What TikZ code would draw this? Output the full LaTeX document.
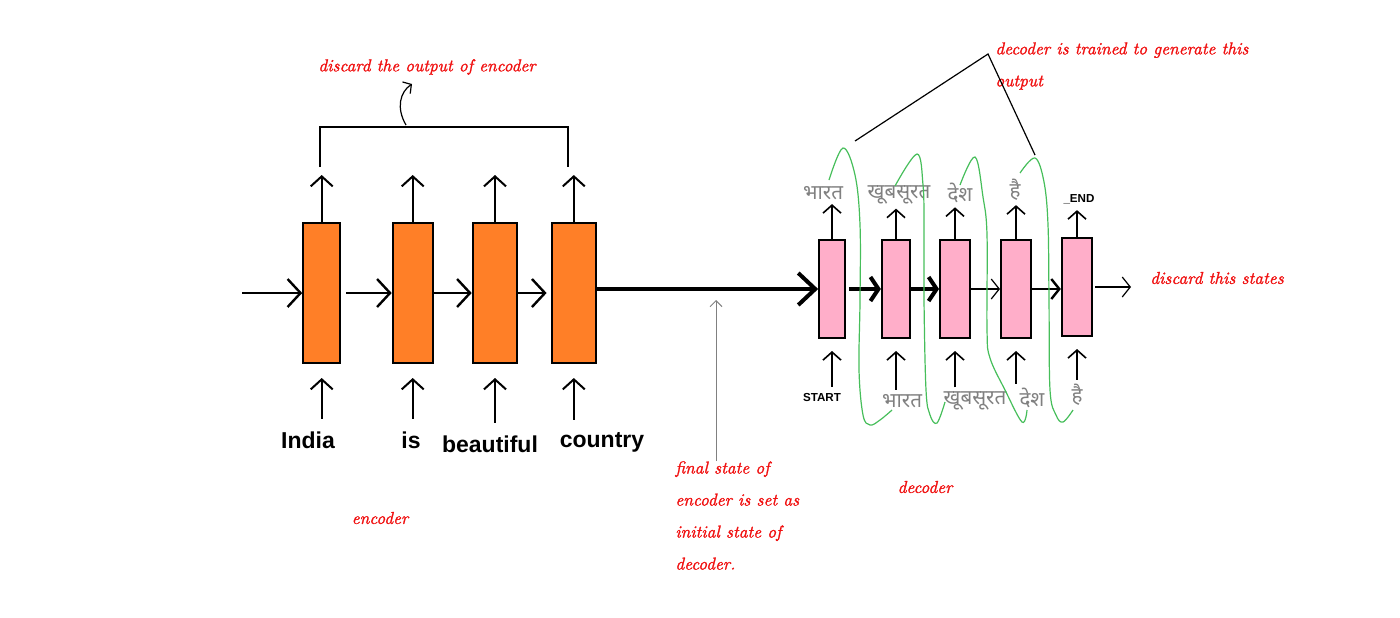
\documentclass[tikz,border=0pt]{standalone}
\usepackage{fontspec}
\setsansfont{Liberation Sans}
\newfontfamily\devfont[Script=Devanagari]{Noto Sans}
\newfontfamily\notefont[FakeBold=1.4]{lmroman10-italic.otf}
\usetikzlibrary{positioning, arrows.meta}
\definecolor{encorange}{RGB}{255,127,39}
\definecolor{decpink}{RGB}{255,174,201}
\definecolor{loopgreen}{RGB}{70,190,90}
\definecolor{notered}{RGB}{240,16,16}

\begin{document}
\begin{tikzpicture}[
    x=0.5pt, y=-0.5pt,
    enc/.style={rectangle, draw, line width=1pt, fill=encorange, minimum height=70pt, inner sep=0pt},
    dec/.style={rectangle, draw, line width=1pt, fill=decpink, minimum height=49pt, inner sep=0pt},
    word/.style={font=\sffamily\bfseries\fontsize{11.5}{12}\selectfont, inner sep=1pt, anchor=base},
    tag/.style={font=\sffamily\bfseries\fontsize{5.8}{6}\selectfont, inner sep=1pt},
    hindi/.style={font=\devfont\fontsize{10.3}{11}\selectfont, text=gray, inner sep=0pt},
    note/.style={font=\notefont\fontsize{8.6}{16}\selectfont, text=notered, align=left, inner sep=0pt},
    encarrow/.style={line width=1.2pt, -{Straight Barb[length=6.5pt, width=14pt]}},
    uparrow/.style={line width=1pt, -{Straight Barb[length=5pt, width=11pt]}},
    decup/.style={line width=0.8pt, -{Straight Barb[length=4pt, width=9pt]}},
    thinarrow/.style={line width=0.6pt, -{Straight Barb[length=4pt, width=10pt]}},
    greenloop/.style={loopgreen, line width=0.6pt}
]
    \useasboundingbox (0,0) rectangle (1400,617);

    % Encoder
    \node[enc, minimum width=18.5pt] (e1) at (321.7,293) {};
    \node[enc, minimum width=20pt] (e2) at (412.7,293) {};
    \node[enc, minimum width=22.3pt] (e3) at (495,293) {};
    \node[enc, minimum width=22.2pt] (e4) at (573.8,293) {};

    \node[word] (w1) at (308,448) {India};
    \node[word] (w2) at (411,448) {is};
    \node[word] (w3) at (490,452) {beautiful};
    \node[word] (w4) at (602,447) {country};

    \coordinate (src) at (242,293);
    \draw[encarrow] (src) -- (e1.west);
    \draw[encarrow, shorten <=2.5pt] (e1) -- (e2);
    \draw[encarrow] (e2) -- (e3);
    \draw[encarrow, shorten >=2pt] (e3) -- (e4);

    \foreach \i in {1,...,4} {
        \draw[uparrow, shorten <=5pt, shorten >=7pt] (e\i.south |- w\i.north) -- (e\i.south);
        \coordinate (o\i) at ([yshift=23.5pt]e\i.north);
        \draw[uparrow] (e\i.north) -- (o\i);
    }

    % Bracket over the encoder outputs
    \draw[line width=0.6pt] (320,167) |- (568,127) -- (568,167);
    \draw[line width=0.6pt, -{Straight Barb[length=3pt, width=7pt]}] (406,125) .. controls (396,108) and (400,92) .. (412,84);
    \node[note] (n1) at (427,67) {discard the output of encoder};
    \node[note] (n2) at (380,518) {encoder};

    % Decoder
    \node[dec, minimum width=12.85pt] (d1) at (832,289) {};
    \node[dec, minimum width=14.15pt] (d2) at (896,289) {};
    \node[dec, minimum width=15pt] (d3) at (955,289) {};
    \node[dec, minimum width=15pt] (d4) at (1016,289) {};
    \node[dec, minimum width=15.15pt] (d5) at (1077,287) {};

    \draw[line width=2pt, -{Straight Barb[length=8.5pt, width=16pt]}] (e4.east |- d1.west) -- (d1.west);
    \draw[line width=2pt, -{Straight Barb[length=4pt, width=12pt]}, shorten <=1.5pt] (d1) -- (d2);
    \draw[line width=2pt, -{Straight Barb[length=4pt, width=12pt]}] (d2) -- (d3);
    \draw[thinarrow] (d3) -- (d4);
    \draw[line width=1.2pt, -{Straight Barb[length=4pt, width=10pt]}] (d4) -- (d5.west |- d4.east);
    \coordinate (sink) at (1131,287);
    \draw[thinarrow, shorten <=1pt] (d5) -- (sink);

    % Decoder outputs
    \node[hindi] (t1) at (823,193) {भारत};
    \node[hindi] (t2) at (899,195) {खूबसूरत};
    \node[hindi] (t3) at (960,193) {देश};
    \node[hindi] (t4) at (1015,190) {है};
    \node[tag] (t5) at (1079,199) {\_END};

    % Decoder inputs
    \node[tag] (b0) at (822,397) {START};
    \node[hindi] (b1) at (902,401) {भारत};
    \node[hindi] (b2) at (975,401) {खूबसूरत};
    \node[hindi] (b3) at (1032,398) {देश};
    \node[hindi] (b4) at (1077,395) {है};

    \foreach \i/\t in {1/1,2/2,3/3,4/4,5/5} {
        \draw[decup, shorten >=2pt] (d\i.north) -- (d\i.north |- t\t.south);
    }
    \foreach \i/\b in {1/0,2/1,3/2,4/3,5/4} {
        \draw[decup, shorten <=2pt, shorten >=6pt] (d\i.south |- b\b.north) -- (d\i.south);
    }

    % Green loops
    \draw[greenloop] plot[smooth, tension=0.6] coordinates {(829,180) (843,148) (855,175) (860,225) (860,300) (859,370) (863,415) (870,425) (880,420) (892,410)};
    \draw[greenloop] plot[smooth, tension=0.6] coordinates {(895,186) (917,154) (923,185) (924,225) (924,300) (926,390) (930,415) (937,423) (945,402)};
    \draw[greenloop] plot[smooth, tension=0.6] coordinates {(960,185) (975,157) (983,197) (987,235) (987,330) (990,358) (1005,390) (1022,422) (1027,410)};
    \draw[greenloop] plot[smooth, tension=0.6] coordinates {(1020,173) (1035,158) (1044,182) (1048,225) (1049,300) (1050,390) (1056,415) (1063,422) (1073,410)};

    % Notes
    \node[note, anchor=north west] (n3) at (675,461) {final state of\\encoder is set as\\initial state of\\decoder.};
    \coordinate (fstip) at (716,300);
    \draw[gray, line width=0.5pt, -{Straight Barb[length=3pt, width=6pt]}] (n3.north -| fstip) -- (fstip);
    \node[note] (n4) at (925,487) {decoder};
    \node[note] (n6) at (1217,278) {discard this states};

    \node[note, anchor=north west] (n5) at (995,42) {decoder is trained to generate this\\output};
    \coordinate (fork) at (988,54);
    \coordinate (lend) at (855,141);
    \coordinate (rend) at (1035,155);
    \draw[line width=0.6pt] (lend) -- (fork) -- (rend);
\end{tikzpicture}
\end{document}
